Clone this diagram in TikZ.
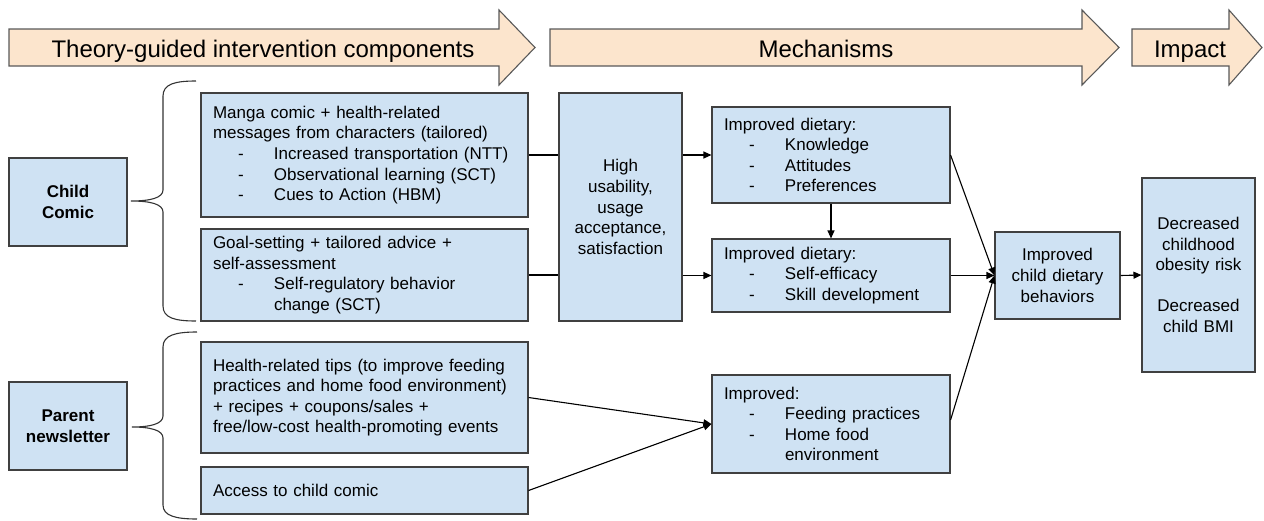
\documentclass[tikz,border=0pt]{standalone}
\usepackage{fontspec}
\setmainfont{Liberation Sans}
\usetikzlibrary{arrows.meta}
\definecolor{boxfill}{HTML}{CFE2F3}
\definecolor{boxline}{HTML}{404040}
\definecolor{hdrfill}{HTML}{FCE5CD}
\definecolor{hdrline}{HTML}{595959}
\newcommand\dashitem[1]{\hspace*{25pt}\makebox[36pt][l]{-}#1}
\newcommand\contitem[1]{\hspace*{61pt}#1}
\begin{document}
\begin{tikzpicture}[x=1pt,y=-1pt,
  box/.style={draw=boxline, line width=1.1pt, fill=boxfill, inner ysep=0pt, font=\fontsize{17}{20.6}\selectfont},
  lbox/.style={box, inner xsep=12pt, align=left},
  cbox/.style={box, inner xsep=6pt, align=center},
  boldbox/.style={cbox, font=\fontsize{17}{20.6}\selectfont\bfseries},
  conn/.style={draw=black, line width=1.1pt},
  arr/.style={conn, -{Triangle[length=8pt,width=7pt]}},
  hdr/.style={draw=hdrline, line width=1.1pt, fill=hdrfill},
  hdrtext/.style={font=\fontsize{24}{28}\selectfont, inner sep=0pt, anchor=base},
  brace/.style={draw=black!80, line width=1.1pt}
]
\useasboundingbox (0,0) rectangle (1264,520);

% header arrows
\draw[hdr] (9,29) -- (499,29) -- (499,10) -- (535,47.5) -- (499,85) -- (499,66) -- (9,66) -- cycle;
\node[hdrtext] (h1) at (263,57) {Theory-guided intervention components};
\draw[hdr] (550,29) -- (1082,29) -- (1082,10) -- (1119,47.5) -- (1082,85) -- (1082,66) -- (550,66) -- cycle;
\node[hdrtext] (h2) at (826,57) {Mechanisms};
\draw[hdr] (1132,29) -- (1229,29) -- (1229,10) -- (1262,47.5) -- (1229,85) -- (1229,66) -- (1132,66) -- cycle;
\node[hdrtext] (h3) at (1190,57) {Impact};

% left labels
\node[boldbox, text width=106pt, minimum height=88pt] (childc) at (68,202) {Child\\Comic};
\node[boldbox, text width=106pt, minimum height=88pt] (parent) at (68,426) {Parent\\newsletter};

% braces
\draw[brace] (196,81) .. controls (175,81) and (163,84) .. (163,96) -- (163,190) .. controls (163,198) and (150,201) .. (131,201) .. controls (150,201) and (163,204) .. (163,212) -- (163,306) .. controls (163,318) and (175,321) .. (196,321);
\draw[brace] (197,332) .. controls (176,332) and (163,335) .. (163,347) -- (163,416) .. controls (163,424) and (150,427) .. (132,427) .. controls (150,427) and (163,430) .. (163,438) -- (163,505) .. controls (163,516) and (176,519) .. (197,519);

% components
\node[lbox, text width=303pt, minimum height=124pt] (manga) at (364.5,155) {Manga comic + health-related\\messages from characters (tailored)\\\dashitem{Increased transportation (NTT)}\\\dashitem{Observational learning (SCT)}\\\dashitem{Cues to Action (HBM)}};
\node[lbox, text width=303pt, minimum height=92pt] (goal) at (364.5,275) {Goal-setting + tailored advice +\\self-assessment\\\dashitem{Self-regulatory behavior}\\\contitem{change (SCT)}};
\node[lbox, text width=303pt, minimum height=111pt] (health) at (364.5,397.5) {Health-related tips (to improve feeding\\practices and home food environment)\\+ recipes + coupons/sales +\\free/low-cost health-promoting events};
\node[lbox, text width=303pt, minimum height=47pt] (access) at (364.5,490.5) {Access to child comic};

% mechanisms
\node[cbox, text width=111pt, minimum height=228pt] (high) at (620.5,207) {High\\usability,\\usage\\acceptance,\\satisfaction};
\node[lbox, text width=214pt, minimum height=96pt] (know) at (831,155) {Improved dietary:\\\dashitem{Knowledge}\\\dashitem{Attitudes}\\\dashitem{Preferences}};
\node[lbox, text width=214pt, minimum height=73pt] (selfeff) at (831,275.5) {Improved dietary:\\\dashitem{Self-efficacy}\\\dashitem{Skill development}};
\node[lbox, text width=214pt, minimum height=98pt] (improved) at (831,424) {Improved:\\\dashitem{Feeding practices}\\\dashitem{Home food}\\\contitem{environment}};
\node[cbox, text width=113pt, minimum height=87pt] (childdiet) at (1057.5,275.5) {Improved\\child dietary\\behaviors};

% impact
\node[cbox, text width=101pt, minimum height=194pt] (decr) at (1198.5,275) {Decreased\\childhood\\obesity risk\\\mbox{}\\Decreased\\child BMI};

% connectors
\draw[conn] (manga.east) -- (manga.east -| high.west);
\draw[conn] (goal.east) -- (goal.east -| high.west);
\draw[arr] (high.east |- know.west) -- (know.west);
\draw[arr] (high.east |- selfeff.west) -- (selfeff.west);
\draw[arr] (know.south) -- (selfeff.north);
\draw[arr] (know.east) -- (childdiet.west);
\draw[arr] (selfeff.east) -- (childdiet.west);
\draw[arr] ([yshift=4pt]improved.east) -- (childdiet.west);
\draw[arr] (childdiet.east) -- (decr.west);
\draw[arr] (health.east) -- (improved.west);
\draw[arr] (access.east) -- (improved.west);
\end{tikzpicture}
\end{document}
